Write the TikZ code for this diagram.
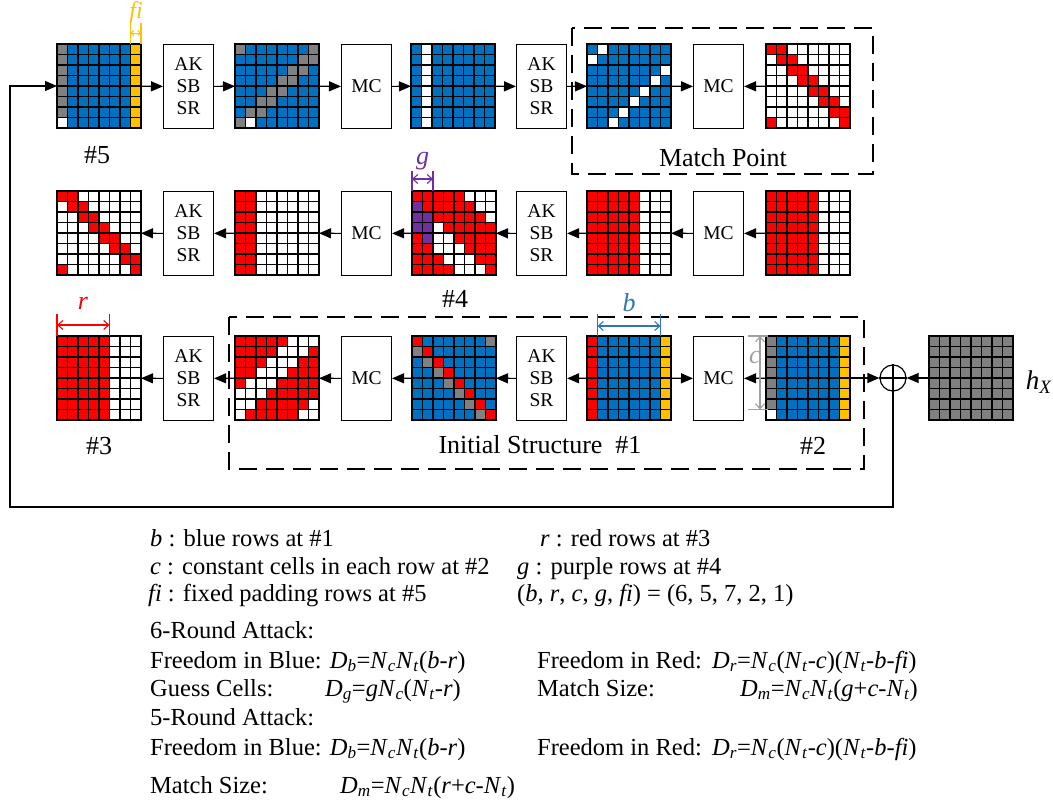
\documentclass[tikz,border=0pt]{standalone}
\usepackage{fontspec}
\setmainfont{Liberation Serif}
\usetikzlibrary{arrows.meta,positioning,calc}
\definecolor{cB}{RGB}{0,112,192}
\definecolor{cR}{RGB}{255,0,0}
\definecolor{cG}{RGB}{128,128,128}
\definecolor{cY}{RGB}{255,192,0}
\definecolor{cW}{RGB}{255,255,255}
\definecolor{cP}{RGB}{112,48,160}
\definecolor{dimblue}{RGB}{46,117,182}
\definecolor{dimgray}{RGB}{160,160,160}

% one row of 8 cells, #1 = row index, #2..#9 = colour letters
\newcommand\cellrow[9]{%
  \foreach \cc/\kk in {0/#2,1/#3,2/#4,3/#5,4/#6,5/#7,6/#8,7/#9}
    \filldraw[cellsq,fill=c\kk] (\cc*10.5,#1*10.5) rectangle ++(10.5,10.5);}
% 8x8 state, #1 = name, #2/#3 = top left, #4 = rows
\newcommand\cellgrid[4]{%
  \node[statenode] (#1) at (#2+42,#3+42) {};
  \begin{scope}[shift={(#2,#3)}]
    \foreach \rowstr [count=\rr from 0] in {#4} {
      \edef\tmp{\noexpand\cellrow{\rr}\rowstr}\tmp}
  \end{scope}}
\newcommand\iv[1]{\textit{#1}}
\newcommand\sv[2]{\textit{#1}\textsubscript{\textit{#2}}}

\begin{document}
\begin{tikzpicture}[x=1pt,y=-1pt,
    cellsq/.style={draw=black,line width=1.4pt},
    statenode/.style={minimum size=84pt,inner sep=0pt,outer sep=0pt},
    opbox/.style={draw,line width=1.1pt,minimum width=50pt,minimum height=84pt,inner sep=0pt,
      align=center,anchor=north west,font=\fontsize{19.5}{22}\selectfont},
    flow/.style={line width=1.2pt,-{Triangle[length=12pt,width=10pt]}},
    dimline/.style={line width=1.1pt,{Straight Barb[length=5pt,width=9pt]}-{Straight Barb[length=5pt,width=9pt]}},
    stageframe/.style={line width=1.3pt,dash pattern=on 18pt off 9pt},
    lbl/.style={inner sep=0pt,font=\fontsize{26}{30}\selectfont},
    txt/.style={anchor=base west,inner sep=0pt,font=\fontsize{24.5}{29}\selectfont}]
  \useasboundingbox (0,0) rectangle (1053,805);

  % row 1
  \cellgrid{g11}{57}{44}{GBBBBBBY,GBBBBBBY,GBBBBBBY,GBBBBBBY,GBBBBBBY,GBBBBBBY,GBBBBBBY,WBBBBBBY}
  \cellgrid{g12}{235}{44}{GBBBBBBG,BBBBBBGG,BBBBBGGB,BBBBGGBB,BBBGGBBB,BBGGBBBB,BGGBBBBB,GWBBBBBB}
  \cellgrid{g13}{411}{44}{BWBBBBBB,BWBBBBBB,BWBBBBBB,BWBBBBBB,BWBBBBBB,BWBBBBBB,BWBBBBBB,BWBBBBBB}
  \cellgrid{g14}{587}{44}{BWBBBBBB,WBBBBBBB,BBBBBBBW,BBBBBBWB,BBBBBWBB,BBBBWBBB,BBBWBBBB,BBWBBBBB}
  \cellgrid{g15}{766}{44}{RRWWWWWW,WRRWWWWW,WWRRWWWW,WWWRRWWW,WWWWRRWW,WWWWWRRW,WWWWWWRR,RWWWWWWR}
  \node[opbox] (b11) at (163,44) {AK\\SB\\SR};
  \node[opbox] (b12) at (341,44) {MC};
  \node[opbox] (b13) at (516,44) {AK\\SB\\SR};
  \node[opbox] (b14) at (693,44) {MC};

  % row 2
  \cellgrid{g21}{57}{191}{RRWWWWWW,WRRWWWWW,WWRRWWWW,WWWRRWWW,WWWWRRWW,WWWWWRRW,WWWWWWRR,RWWWWWWR}
  \cellgrid{g22}{235}{191}{RRWWWWWW,RRWWWWWW,RRWWWWWW,RRWWWWWW,RRWWWWWW,RRWWWWWW,RRWWWWWW,RRWWWWWW}
  \cellgrid{g23}{412}{191}{RRRRRWWW,PRRRRRWW,PPRRRRRW,PPWRRRRR,RPWWRRRR,RRWWWRRR,RRRWWWRR,RRRRWWWR}
  \cellgrid{g24}{587}{191}{RRRRRWWW,RRRRRWWW,RRRRRWWW,RRRRRWWW,RRRRRWWW,RRRRRWWW,RRRRRWWW,RRRRRWWW}
  \cellgrid{g25}{766}{191}{RRRRRWWW,RRRRRWWW,RRRRRWWW,RRRRRWWW,RRRRRWWW,RRRRRWWW,RRRRRWWW,RRRRRWWW}
  \node[opbox] (b21) at (163,191) {AK\\SB\\SR};
  \node[opbox] (b22) at (341,191) {MC};
  \node[opbox] (b23) at (516,191) {AK\\SB\\SR};
  \node[opbox] (b24) at (693,191) {MC};

  % row 3
  \cellgrid{g31}{57}{336}{RRRRRWWW,RRRRRWWW,RRRRRWWW,RRRRRWWW,RRRRRWWW,RRRRRWWW,RRRRRWWW,RRRRRWWW}
  \cellgrid{g32}{235}{336}{RRRRRWWW,RRRRWWWR,RRRWWWRR,RRWWWRRR,RWWWRRRR,WWWRRRRR,WWRRRRRW,WRRRRRWW}
  \cellgrid{g33}{412}{336}{RBBBBBBG,GRBBBBBB,BGRBBBBB,BBGRBBBB,BBBGRBBB,BBBBGRBB,BBBBBGRB,BBBBBBGR}
  \cellgrid{g34}{587}{336}{RBBBBBBY,RBBBBBBY,RBBBBBBY,RBBBBBBY,RBBBBBBY,RBBBBBBY,RBBBBBBY,RBBBBBBY}
  \cellgrid{g35}{766}{336}{GBBBBBBY,GBBBBBBY,GBBBBBBY,GBBBBBBY,GBBBBBBY,GBBBBBBY,GBBBBBBY,WBBBBBBY}
  \cellgrid{hx}{929}{336}{GGGGGGGG,GGGGGGGG,GGGGGGGG,GGGGGGGG,GGGGGGGG,GGGGGGGG,GGGGGGGG,GGGGGGGG}
  \node[opbox] (b31) at (163,336) {AK\\SB\\SR};
  \node[opbox] (b32) at (341,336) {MC};
  \node[opbox] (b33) at (516,336) {AK\\SB\\SR};
  \node[opbox] (b34) at (693,336) {MC};
  \node[circle,draw,line width=1.2pt,minimum size=26pt,inner sep=0pt] (xor) at (893,378) {};
  \draw[line width=1.2pt] (xor.north) -- (xor.south) (xor.west) -- (xor.east);

  % connectors
  \draw[flow] (g11) -- (b11);
  \draw[flow] (b11) -- (g12);
  \draw[flow] (g12) -- (b12);
  \draw[flow] (b12) -- (g13);
  \draw[flow] (g13) -- (b13);
  \draw[flow] (b13) -- (g14);
  \draw[flow] (g14) -- (b14);
  \draw[flow] (g15) -- (b14);
  \draw[flow] (g25) -- (b24);
  \draw[flow] (b24) -- (g24);
  \draw[flow] (g24) -- (b23);
  \draw[flow] (b23) -- (g23);
  \draw[flow] (g23) -- (b22);
  \draw[flow] (b22) -- (g22);
  \draw[flow] (g22) -- (b21);
  \draw[flow] (b21) -- (g21);
  \draw[flow] (hx) -- (xor);
  \draw[flow] (g35) -- (xor);
  \draw[flow] (g35) -- (b34);
  \draw[flow] (g34) -- (b34);
  \draw[flow] (g34) -- (b33);
  \draw[flow] (b33) -- (g33);
  \draw[flow] (g33) -- (b32);
  \draw[flow] (b32) -- (g32);
  \draw[flow] (g32) -- (b31);
  \draw[flow] (b31) -- (g31);
  \coordinate (fbcorner) at (10,507);
  \draw[flow] (xor.south) |- (fbcorner) |- (g11.west);

  % dashed stages
  \draw[stageframe] (572,28) rectangle (873,174);
  \draw[stageframe] (229,317) rectangle (864,469);

  % dimension marks
  \draw[cY,line width=1.1pt] (130.5,44) -- (130.5,23) (141,44) -- (141,23);
  \draw[cY,line width=0.9pt,{Straight Barb[length=2.5pt,width=5pt]}-{Straight Barb[length=2.5pt,width=5pt]}] (130.5,33) -- (141,33);
  \node[lbl,cY,font=\fontsize{24}{28}\selectfont] (dfi) at (136,13) {\iv{fi}};
  \draw[cP,line width=1.1pt] (412,191) -- (412,171) (433,191) -- (433,171);
  \draw[cP,dimline] (412,179) -- (433,179);
  \node[lbl,cP] (dg) at (422.5,161) {\iv{g}};
  \draw[cR,line width=1.1pt] (57,336) -- (57,314) (109.5,336) -- (109.5,314);
  \draw[cR,dimline] (57,325) -- (109.5,325);
  \node[lbl,cR] (dr) at (83,303) {\iv{r}};
  \draw[dimblue,line width=1.1pt] (597.5,336) -- (597.5,314) (660.5,336) -- (660.5,314);
  \draw[dimblue,dimline] (597.5,326) -- (660.5,326);
  \node[lbl,dimblue] (db) at (629,303) {\iv{b}};
  \draw[dimgray,line width=1.1pt] (748,336) -- (768,336) (748,409.5) -- (768,409.5);
  \draw[dimgray,dimline] (760,336) -- (760,409.5);
  \node[lbl,dimgray] (dc) at (755,358) {\iv{c}};

  % state labels
  \node[lbl] (l5) at (97,155) {\#5};
  \node[lbl] (l4) at (455,299) {\#4};
  \node[lbl] (l3) at (99,446) {\#3};
  \node[lbl] (l2) at (813,446) {\#2};
  \node[lbl] (lmp) at (723,158) {Match Point};
  \node[lbl] (lis) at (540,445) {Initial Structure\ \ \#1};
  \node[lbl,font=\fontsize{27}{30}\selectfont] (lhx) at (1039,382) {\sv{h}{X}};

  % legend
  \node[txt] (t1) at (150,546) {\iv{b} : blue rows at \#1};
  \node[txt] (t2) at (540,546) {\iv{r} : red rows at \#3};
  \node[txt] (t3) at (150,574) {\iv{c} : constant cells in each row at \#2};
  \node[txt] (t4) at (517,574) {\iv{g} : purple rows at \#4};
  \node[txt] (t5) at (148,601) {\iv{fi} : fixed padding rows at \#5};
  \node[txt] (t6) at (517,601) {(\iv{b}, \iv{r}, \iv{c}, \iv{g}, \iv{fi}) = (6, 5, 7, 2, 1)};
  \node[txt] (t7) at (150,638) {6-Round Attack:};
  \node[txt] (t8) at (150,668) {Freedom in Blue: \sv{D}{b}=\sv{N}{c}\sv{N}{t}(\iv{b}-\iv{r})};
  \node[txt] (t9) at (537,668) {Freedom in Red:};
  \node[txt] (f9) at (712,668) {\sv{D}{r}=\sv{N}{c}(\sv{N}{t}-\iv{c})(\sv{N}{t}-\iv{b}-\iv{fi})};
  \node[txt] (t10) at (150,696) {Guess Cells:};
  \node[txt] (f10) at (325,696) {\sv{D}{g}=\iv{g}\sv{N}{c}(\sv{N}{t}-\iv{r})};
  \node[txt] (t11) at (537,696) {Match Size:};
  \node[txt] (f11) at (740,696) {\sv{D}{m}=\sv{N}{c}\sv{N}{t}(\iv{g}+\iv{c}-\sv{N}{t})};
  \node[txt] (t12) at (150,725) {5-Round Attack:};
  \node[txt] (t13) at (150,755) {Freedom in Blue: \sv{D}{b}=\sv{N}{c}\sv{N}{t}(\iv{b}-\iv{r})};
  \node[txt] (t14) at (537,755) {Freedom in Red:};
  \node[txt] (f14) at (712,755) {\sv{D}{r}=\sv{N}{c}(\sv{N}{t}-\iv{c})(\sv{N}{t}-\iv{b}-\iv{fi})};
  \node[txt] (t15) at (150,793) {Match Size:};
  \node[txt] (f15) at (340,793) {\sv{D}{m}=\sv{N}{c}\sv{N}{t}(\iv{r}+\iv{c}-\sv{N}{t})};
\end{tikzpicture}
\end{document}
